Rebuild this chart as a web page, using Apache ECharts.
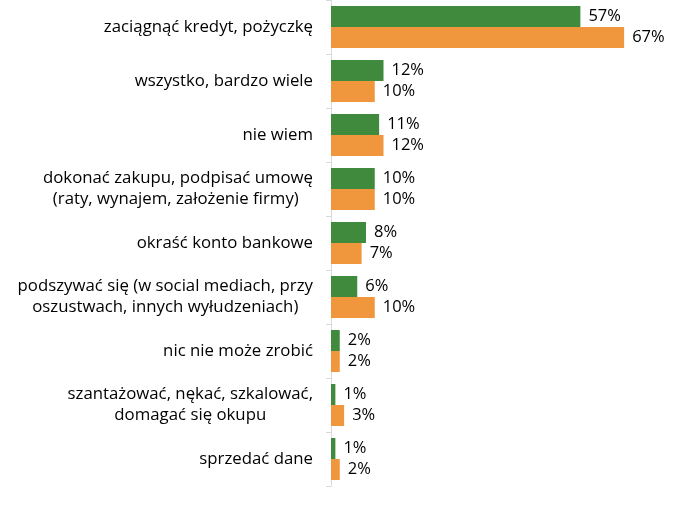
<!DOCTYPE html>
<html>
<head>
<meta charset="utf-8">
<script src="https://cdn.jsdelivr.net/npm/echarts@6/dist/echarts.min.js"></script>
<style>
  html, body { margin: 0; padding: 0; background: #fff; }
  #chart { width: 693px; height: 512px; }
</style>
</head>
<body>
<div id="chart"></div>
<script>
const categories = [
  "zaciągnąć kredyt, pożyczkę",
  "wszystko, bardzo wiele",
  "nie wiem",
  "dokonać zakupu, podpisać umowę\n(raty, wynajem, założenie firmy) ",
  "okraść konto bankowe",
  "podszywać się (w social mediach, przy\noszustwach, innych wyłudzeniach)",
  "nic nie może zrobić",
  "szantażować, nękać, szkalować,\ndomagać się okupu",
  "sprzedać dane"
];
const greenValues = [57, 12, 11, 10, 8, 6, 2, 1, 1];
const orangeValues = [67, 10, 12, 10, 7, 10, 2, 3, 2];

const font = "Open Sans";
let mychart = echarts.init(document.getElementById("chart"));

const barLabel = {
  show: true,
  position: "right",
  distance: 8,
  formatter: "{c}%",
  color: "#000",
  fontSize: 16.5,
  fontFamily: font
};

let option = {
  animation: false,
  grid: { left: 331, right: 12, top: 0, bottom: 26, containLabel: false },
  xAxis: {
    type: "value",
    min: 0,
    max: 80,
    show: false
  },
  yAxis: {
    type: "category",
    inverse: true,
    data: categories,
    axisLine: { show: true, lineStyle: { color: "#d9d9d9" } },
    axisTick: { show: true, length: 5, lineStyle: { color: "#d9d9d9" } },
    axisLabel: {
      margin: 18,
      formatter: function (v) {
        return v.split("\n").map(function (s) { return "{c|" + s + "}"; }).join("\n");
      },
      rich: {
        c: { align: "center", fontSize: 16.8, fontFamily: font, color: "#000", lineHeight: 21 }
      }
    }
  },
  series: [
    {
      type: "bar",
      data: greenValues,
      barWidth: 21,
      barGap: "0%",
      itemStyle: { color: "#3f8a3c" },
      label: barLabel
    },
    {
      type: "bar",
      data: orangeValues,
      barWidth: 21,
      barGap: "0%",
      itemStyle: { color: "#f0963c" },
      label: barLabel
    }
  ]
};
mychart.setOption(option);
</script>
</body>
</html>
